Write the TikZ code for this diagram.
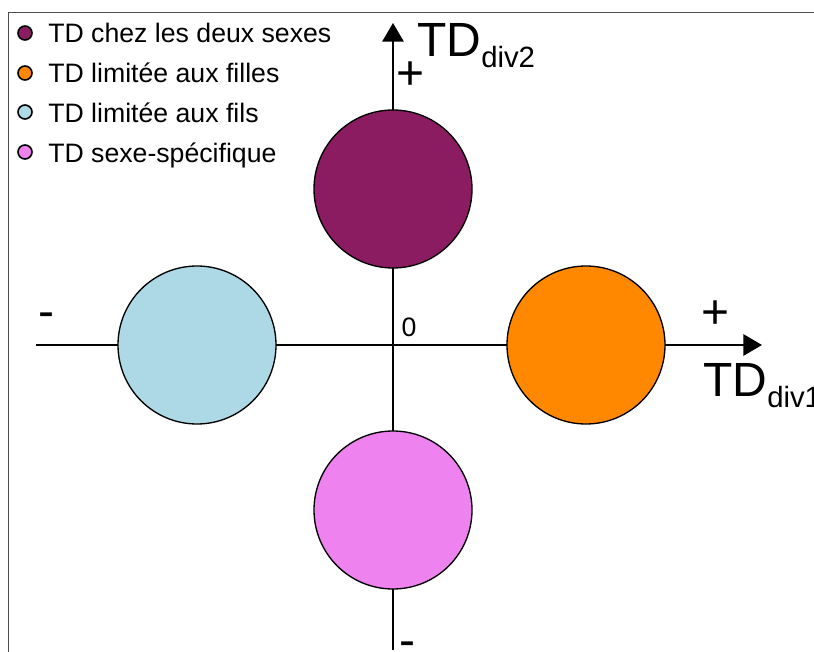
\documentclass[tikz,border=0pt]{standalone}
\usepackage{fontspec}
\setmainfont{Liberation Sans}
\usetikzlibrary{arrows.meta,positioning}
\definecolor{tdboth}{RGB}{140,28,98}
\definecolor{tdfilles}{RGB}{255,136,0}
\definecolor{tdfils}{RGB}{173,216,230}
\definecolor{tdsexe}{RGB}{238,130,238}

\begin{document}
\begin{tikzpicture}[x=0.75pt,y=-0.75pt,
  disque/.style={circle,draw=black,line width=1pt,minimum size=118.5pt,inner sep=0pt},
  puce/.style={circle,draw=black,line width=1.2pt,minimum size=10.5pt,inner sep=0pt},
  legende/.style={anchor=base west,inner sep=0pt,font=\fontsize{20}{24}\selectfont},
  signe/.style={anchor=base,inner sep=0pt,font=\fontsize{36}{36}\selectfont},
  titre/.style={anchor=base west,inner sep=0pt,font=\fontsize{36}{36}\selectfont},
  axe/.style={line width=1.5pt,-{Triangle[length=14pt,width=16pt]}}]
\useasboundingbox (0,0) rectangle (814,652);
\clip (0,0) rectangle (814,652);
\draw[gray!60!black,line width=0.75pt] (8,13) rectangle (840,680);
% axes
\coordinate (xmin) at (36,345);
\coordinate (xmax) at (762,345);
\coordinate (ymin) at (393,650);
\coordinate (ymax) at (393,23);
\draw[axe] (xmin) -- (xmax);
\draw[axe] (ymin) -- (ymax);
% cercles
\node[disque,fill=tdboth] (both) at (393,189) {};
\node[disque,fill=tdfilles] (filles) at (586,345) {};
\node[disque,fill=tdfils] (fils) at (197,345) {};
\node[disque,fill=tdsexe] (sexe) at (393,510) {};
% signes et titres
\node[signe] (plusy) at (411,90) {+};
\node[signe] (plusx) at (716,329) {+};
\node[signe] (moinsx) at (46,328) {-};
\node[signe] (moinsy) at (407,656) {-};
\node[anchor=base,inner sep=0pt,font=\fontsize{20}{24}\selectfont] (zero) at (409,337) {0};
\node[titre] (tdy) at (417,57)
  {TD\raisebox{-8.25pt}{\fontsize{22}{22}\selectfont div2}};
\node[titre] (tdx) at (703,397)
  {TD\raisebox{-8.25pt}{\fontsize{22}{22}\selectfont div1}};
% legende
\node[puce,fill=tdboth] (p1) at (25,33) {};
\node[puce,fill=tdfilles] (p2) at (25,73) {};
\node[puce,fill=tdfils] (p3) at (25,112) {};
\node[puce,fill=tdsexe] (p4) at (25,152) {};
\node[legende] (l1) at (48,43) {TD chez les deux sexes};
\node[legende] (l2) at (48,83) {TD limitée aux filles};
\node[legende] (l3) at (48,123) {TD limitée aux fils};
\node[legende] (l4) at (48,163) {TD sexe-spécifique};
\end{tikzpicture}
\end{document}
